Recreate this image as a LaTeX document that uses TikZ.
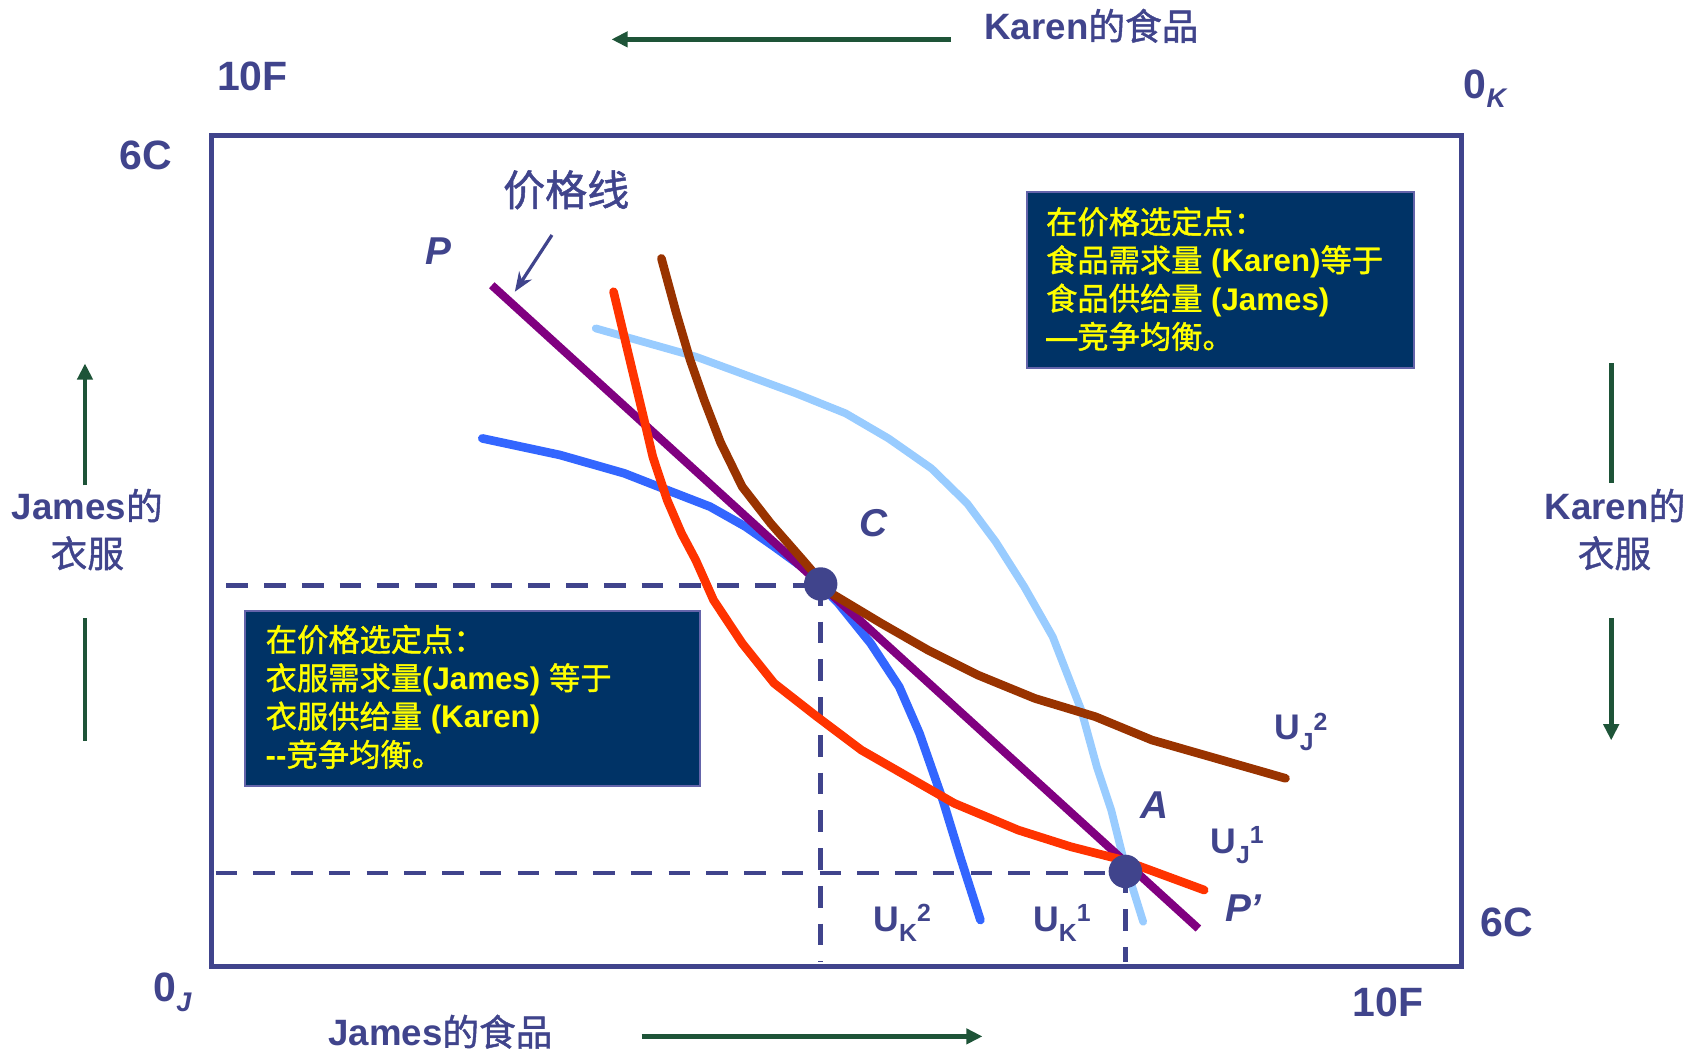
\documentclass[tikz,border=0pt]{standalone}
\usepackage{fontspec}
\setmainfont{Liberation Sans}
\newfontfamily\cjk{Noto Sans CJK SC}[FakeBold=1.2]
\usetikzlibrary{arrows.meta}
\definecolor{txt}{RGB}{64,68,140}
\definecolor{grn}{RGB}{30,84,56}
\definecolor{pur}{RGB}{128,0,128}
\definecolor{ublue}{RGB}{51,102,255}
\definecolor{lblue}{RGB}{153,204,255}
\definecolor{ured}{RGB}{255,51,0}
\definecolor{brn}{RGB}{153,51,0}
\definecolor{navy}{RGB}{0,51,102}
\definecolor{boxedge}{RGB}{100,100,170}
\definecolor{ylw}{RGB}{255,255,0}
\newcommand\zh[1]{{\cjk\mdseries #1}}
\newcommand\fsz[1]{\fontsize{#1}{#1}\selectfont}
\begin{document}
\begin{tikzpicture}[x=0.5pt,y=-0.5pt,
  lbl/.style={text=txt, inner sep=0pt, anchor=base west, font=\fsz{19pt}\bfseries},
  axl/.style={text=txt, inner sep=0pt, font=\fsz{17pt}\bfseries},
  itl/.style={text=txt, inner sep=0pt, anchor=base west, font=\fsz{18pt}\bfseries\itshape},
  ulbl/.style={text=txt, inner sep=0pt, anchor=base west, font=\fsz{16.5pt}\bfseries},
  garrow/.style={draw=grn, line width=2.25pt, -{Triangle[length=7.5pt,width=7pt]}},
  gline/.style={draw=grn, line width=2.25pt},
  frame/.style={draw=txt, line width=2.25pt},
  dashline/.style={draw=txt, line width=2.3pt, dash pattern=on 10pt off 7.5pt},
  curve/.style={line width=4pt, line cap=round, line join=round},
  boxst/.style={draw=boxedge, fill=navy, line width=1pt, inner sep=0pt, anchor=north west},
  boxtxt/.style={text=ylw, inner sep=0pt, anchor=base west, font=\fsz{14.5pt}\bfseries},
  dot/.style={circle, fill=txt, minimum size=15.5pt, inner sep=0pt},
  ptr/.style={draw=txt, line width=1.5pt, -{Stealth[length=9pt,width=7pt]}}
]
\useasboundingbox (0,0) rectangle (1568,975);

% frame
\draw[frame] (196,125.5) rectangle (1355,896.5);

% corner labels
\node[lbl] (tl10F) at (201,83.5) {10F};
\node[lbl] (tl6C) at (110.5,157.6) {6C};
\node[lbl] (oK) at (1357,91) {0\raisebox{-4.5pt}{\fsz{12.5pt}\itshape K}};
\node[lbl] (oJ) at (142,929) {0\raisebox{-4.5pt}{\fsz{12.5pt}\itshape J}};
\node[lbl] (br10F) at (1254,942.8) {10F};
\node[lbl] (br6C) at (1372.4,868.6) {6C};

% axis labels
\node[axl, anchor=base west] (kfood) at (912.5,37) {Karen\zh{的食品}};
\node[axl, anchor=base west] (jfood) at (304,969.7) {James\zh{的食品}};
\node[axl, anchor=base west] (jcl1) at (10.6,482) {James\zh{的}};
\node[axl] (jcl2) at (81,513) {\zh{衣服}};
\node[axl, anchor=base west] (kcl1) at (1432,482) {Karen\zh{的}};
\node[axl] (kcl2) at (1497,513) {\zh{衣服}};

% green direction arrows
\coordinate (ta1) at (882,36.5); \coordinate (ta2) at (567,36.5);
\draw[garrow] (ta1) -- (ta2);
\coordinate (ba1) at (595,961); \coordinate (ba2) at (911,961);
\draw[garrow] (ba1) -- (ba2);
\coordinate (la1) at (78.8,450); \coordinate (la2) at (78.8,337);
\draw[garrow] (la1) -- (la2);
\coordinate (lb1) at (78.8,573.4); \coordinate (lb2) at (78.8,686.8);
\draw[gline] (lb1) -- (lb2);
\coordinate (ra1) at (1494,337); \coordinate (ra2) at (1494,448);
\draw[gline] (ra1) -- (ra2);
\coordinate (rb1) at (1494,573.4); \coordinate (rb2) at (1494,686.5);
\draw[garrow] (rb1) -- (rb2);

% equilibrium points (positions)
\coordinate (Cp) at (761,541.5);
\coordinate (Ap) at (1043.5,808);

% dashed guides
\coordinate (hC) at (210,542.5);
\coordinate (vC) at (761,892);
\coordinate (hA) at (200,809.5);
\coordinate (vA) at (1043.5,892);
\draw[dashline] (hC) -- (Cp |- hC);
\draw[dashline] (Cp) -- (vC);
\draw[dashline] (hA) -- (Ap |- hA);
\draw[dashline] (Ap) -- (vA);

% U_K^1 light blue
\draw[curve, lblue, line width=3.6pt] plot coordinates {
 (552.4,304.5) (645.1,330.7) (737.8,364.7) (784.1,383.3) (823.8,406.5) (863.6,434.3)
 (896.7,466.7) (923.2,502.3) (949.7,544) (976.1,590.4) (1002.6,658.4)
 (1017,710.9) (1030.4,751.1) (1041.2,794.4) (1060,854.7)};
% U_K^2 blue
\draw[curve, ublue] plot coordinates {
 (447.2,406.5) (519.3,421.9) (578.9,438.9) (618.6,454.4) (658.4,469.8) (691.4,488.4)
 (717.9,506.9) (747.7,528.6) (777.5,559.5) (807.3,596.5) (833.8,636.8) (852.6,680)
 (874.2,741.8) (890.3,794.4) (909.1,853.1)};
% price line
\coordinate (Pst) at (456,264.5);
\coordinate (Pen) at (1111.2,861);
\draw[pur, line width=3.8pt] (Pst) -- (Pen);
% U_J^2 brown
\draw[curve, brn] plot coordinates {
 (613.3,239.6) (627,290) (640,334) (653,371) (668,410)
 (688.2,451.3) (714.6,485.3) (744.4,519.3) (770.9,550.2) (817.2,578) (860.3,602.7)
 (906.6,625.9) (959.6,647.6) (1015.8,664.6) (1068.1,686.2) (1192,721.7)};
% U_J^1 red
\draw[curve, ured] plot coordinates {
 (568.9,270.5) (585.5,340) (598.8,395.6) (605.3,423.5) (618.6,463.6)
 (631.9,494.5) (645.1,519.3) (661.6,556.4) (688.2,596.5) (717.9,633.6) (757.6,664.6)
 (798.7,695.5) (847.2,723.3) (884.9,744.9) (944.2,769.7) (992.7,785.1) (1041.2,797.5)
 (1116.6,825.3)};

% dots
\node[dot] (C) at (Cp) {};
\node[dot] (A) at (Ap) {};

% point / curve labels
\node[itl] (Plbl) at (394,245.7) {P};
\node[itl] (Clbl) at (796.7,497.7) {C};
\node[itl] (Albl) at (1057,758.8) {A};
\node[itl] (P2lbl) at (1135.5,854.7) {P'};
\node[ulbl] (uj2) at (1181,686) {U\raisebox{-4.75pt}{\fsz{11.5pt}J}\raisebox{4.5pt}{\fsz{11.5pt}2}};
\node[ulbl] (uj1) at (1122,791) {U\raisebox{-4.75pt}{\fsz{11.5pt}J}\raisebox{4.5pt}{\fsz{11.5pt}1}};
\node[ulbl] (uk2) at (809.5,864) {U\raisebox{-4.5pt}{\fsz{11.5pt}K}\raisebox{5pt}{\fsz{11.5pt}2}};
\node[ulbl] (uk1) at (957.6,864) {U\raisebox{-4.5pt}{\fsz{11.5pt}K}\raisebox{5pt}{\fsz{11.5pt}1}};

% price line label + pointer
\node[text=txt, inner sep=0pt, font=\fsz{19.5pt}] (jgx) at (525,176) {\zh{价格线}};
\coordinate (pa1) at (511.8,217.9);
\coordinate (pa2) at (477.4,270.5);
\draw[ptr] (pa1) -- (pa2);

% info boxes
\node[boxst, minimum width=179.5pt, minimum height=81.5pt] (boxK) at (951,177) {};
\node[boxtxt] (k1) at (969.6,216.6) {\zh{在价格选定点：}};
\node[boxtxt] (k2) at (969.6,252) {\zh{食品需求量} (Karen)\zh{等于}};
\node[boxtxt] (k3) at (969.6,287.5) {\zh{食品供给量} (James)};
\node[boxtxt] (k4) at (969.6,323) {—\zh{竞争均衡。}};

\node[boxst, minimum width=210.75pt, minimum height=81.2pt] (boxJ) at (226.5,565.6) {};
\node[boxtxt] (j1) at (246,604) {\zh{在价格选定点：}};
\node[boxtxt] (j2) at (246,639.5) {\zh{衣服需求量}(James) \zh{等于}};
\node[boxtxt] (j3) at (246,675) {\zh{衣服供给量} (Karen)};
\node[boxtxt] (j4) at (246,710.5) {-{}-\zh{竞争均衡。}};
\end{tikzpicture}
\end{document}
